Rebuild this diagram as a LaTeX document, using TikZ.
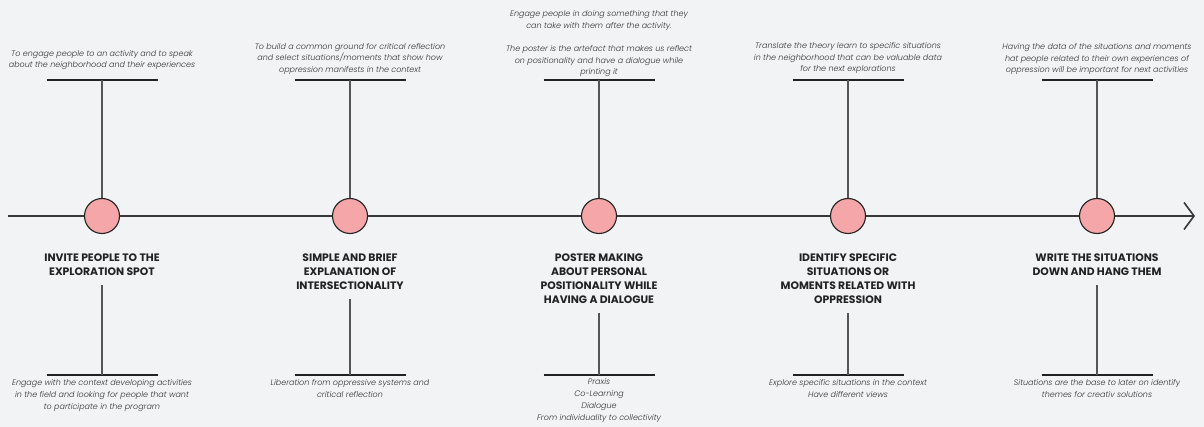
\documentclass[tikz,border=0pt]{standalone}
\usepackage{fontspec}
\setmainfont{Poppins}
\newfontfamily\notefont{Poppins}[UprightFont=* Light, ItalicFont=* Light Italic]
\newfontfamily\headfont{Poppins}[UprightFont=* Bold]
\usetikzlibrary{arrows.meta}
\definecolor{bg}{RGB}{242,243,245}
\definecolor{dotfill}{RGB}{245,166,168}
\definecolor{ink}{RGB}{34,34,34}
\definecolor{stemgray}{RGB}{85,85,85}
\definecolor{notegray}{RGB}{50,50,50}
\tikzset{
  dot/.style={circle, draw=ink, line width=1.1pt, fill=dotfill, minimum size=35pt, inner sep=0pt},
  note/.style={font=\notefont\itshape\fontsize{8}{11.7}\selectfont, text=notegray, align=center, inner sep=0pt, anchor=base},
  head/.style={font=\headfont\fontsize{10.8}{14}\selectfont, text=ink, align=center, inner sep=0pt, anchor=base},
  bar/.style={draw=ink, line width=1.3pt},
  stem/.style={draw=stemgray, line width=1.6pt},
  axis/.style={draw=ink!90, line width=1.6pt}
}
\begin{document}
\begin{tikzpicture}[x=1pt,y=-1pt]
\fill[bg] (0,0) rectangle (1204,427);
\useasboundingbox (0,0) rectangle (1204,427);

% timeline
\coordinate (start) at (8,216);
\coordinate (finish) at (1195,216);
\draw[axis, -{Straight Barb[length=10pt,width=27pt,line width=1.6pt]}] (start) -- (finish);

% milestones with their upper and lower bars
\foreach \i/\x in {1/102,2/350,3/599,4/848,5/1097}{
  \node[dot] (c\i) at (\x,216) {};
  \coordinate (u\i) at (\x,80);
  \coordinate (d\i) at (\x,375);
  \draw[bar] ([xshift=-55.5pt]u\i) -- ([xshift=55.5pt]u\i);
  \draw[bar] ([xshift=-55.5pt]d\i) -- ([xshift=55.5pt]d\i);
  \draw[stem] (u\i) -- (c\i.north);
}

% upper notes (positioned by the baseline of their last line)
\node[note] (n1) at (102,68) {To engage people to an activity and to speak\\about the neighborhood and their experiences};
\node[note] (n2) at (350,72.5) {To build a common ground for critical reflection\\and select situations/moments that show how\\oppression manifests in the context};
\node[note] (n3) at (599,75) {Engage people in doing something that they\\can take with them after the activity.\\[11.7pt]The poster is the artefact that makes us reflect\\on positionality and have a dialogue while\\printing it};
\node[note] (n4) at (848,72) {Translate the theory learn to specific situations\\in the neighborhood that can be valuable data\\for the next explorations};
\node[note] (n5) at (1097,73) {Having the data of the situations and moments\\hat people related to their own experiences of\\oppression will be important for next activities};

% step titles
\node[head] (h1) at (102,276) {INVITE PEOPLE TO THE\\EXPLORATION SPOT};
\node[head] (h2) at (350,290) {SIMPLE AND BRIEF\\EXPLANATION OF\\INTERSECTIONALITY};
\node[head] (h3) at (599,304) {POSTER MAKING\\ABOUT PERSONAL\\POSITIONALITY WHILE\\HAVING A DIALOGUE};
\node[head] (h4) at (848,304) {IDENTIFY SPECIFIC\\SITUATIONS OR\\MOMENTS RELATED WITH\\OPPRESSION};
\node[head] (h5) at (1097,276) {WRITE THE SITUATIONS\\DOWN AND HANG THEM};

% lower stems
\foreach \i in {1,...,5}{
  \draw[stem] ([yshift=-9pt]h\i.south) -- (d\i);
}

% lower notes
\node[note] (b1) at (102,409) {Engage with the context developing activities\\in the field and looking for people that want\\to participate in the program};
\node[note] (b2) at (350,397) {Liberation from oppressive systems and\\critical reflection};
\node[note] (b3) at (599,420) {Praxis\\Co-Learning\\Dialogue\\From individuality to collectivity};
\node[note] (b4) at (848,397) {Explore specific situations in the context\\Have different views};
\node[note] (b5) at (1097,397) {Situations are the base to later on identify\\themes for creativ solutions};
\end{tikzpicture}
\end{document}
